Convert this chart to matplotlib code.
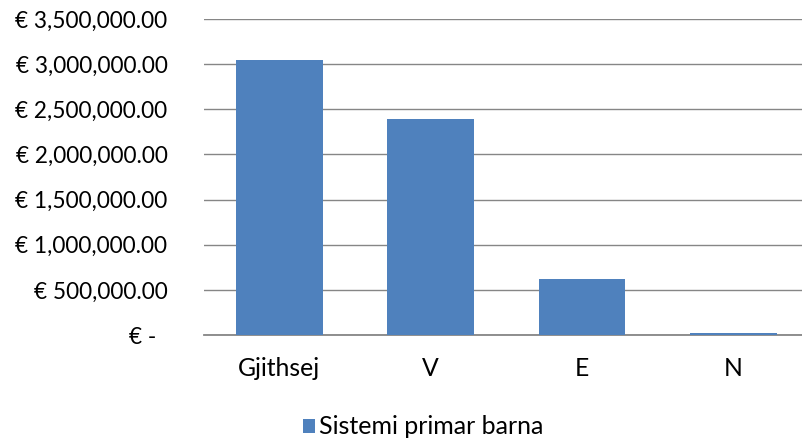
import matplotlib
matplotlib.use("Agg")
import matplotlib.pyplot as plt
from matplotlib.ticker import FuncFormatter
from matplotlib.patches import Patch

categories = ["Gjithsej", "V", "E", "N"]
values = [3046000, 2389000, 617000, 19000]
series_name = "Sistemi primar barna"
yticks = [0, 500000, 1000000, 1500000, 2000000, 2500000, 3000000, 3500000]

plt.rcParams['font.family'] = ['Lato', 'DejaVu Sans']
color = "#4F81BD"
grid_color = "#868686"

fig = plt.figure(figsize=(8.03, 4.43), dpi=100)
ax = fig.add_axes([203.6/803, 1-335/443, (809-203.6)/803, (335-19)/443])

x = range(len(categories))
ax.bar(x, values, width=0.572, color=color, zorder=3)
ax.set_xlim(-0.5, len(categories) - 0.5)
ax.set_ylim(0, 3500000)
ax.set_yticks(yticks)

def fmt(v, pos):
    if v == 0:
        return "€ -  "
    return "€ {:,.2f}".format(v)

ax.yaxis.set_major_formatter(FuncFormatter(fmt))
ax.set_xticks(list(x))
ax.set_xticklabels(categories)
ax.grid(axis='y', color=grid_color, linewidth=1, zorder=0)
for s in ['top', 'right', 'left']:
    ax.spines[s].set_visible(False)
ax.spines['bottom'].set_color(grid_color)
ax.spines['bottom'].set_linewidth(1.3)
ax.tick_params(axis='y', length=0, pad=26, labelsize=16.3, colors='black')
ax.tick_params(axis='x', length=0, pad=16, labelsize=17.8, colors='black')

handles = [Patch(facecolor=color, label=series_name)]
fig.legend(handles=handles, loc='center', bbox_to_anchor=(423/803, 1-427/443),
           frameon=False, fontsize=18, handlelength=0.5, handleheight=0.5,
           handletextpad=0.15)

fig.savefig("out.png", dpi=100)
